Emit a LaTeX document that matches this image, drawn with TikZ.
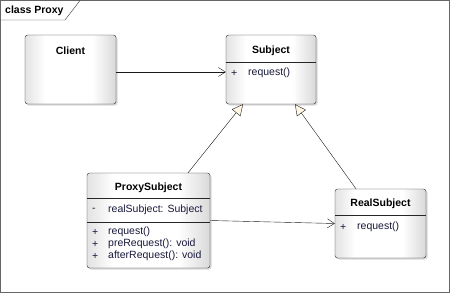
\documentclass[tikz,border=0pt]{standalone}
\usepackage{fontspec}
\setmainfont{Liberation Sans}
\usetikzlibrary{arrows.meta,shadows}
\definecolor{umltext}{RGB}{25,25,60}
\definecolor{genfill}{RGB}{255,247,228}
\pgfdeclarehorizontalshading{classfill}{100bp}{color(0bp)=(black!11); color(25bp)=(black!11); color(36bp)=(white); color(62bp)=(white); color(75bp)=(black!15); color(100bp)=(black!15)}
\begin{document}
\begin{tikzpicture}
[
x = 1pt, y = -1pt,
font = \fontsize{10.5}{12}\selectfont,
classbox/.style = {draw=black!85, rounded corners=2.5pt, inner sep=0pt, shading=classfill, drop shadow={opacity=0.3, shadow xshift=1.5pt, shadow yshift=-1.5pt}},
classname/.style = {font=\fontsize{10.5}{12}\selectfont\bfseries, inner sep=0pt},
member/.style = {anchor=west, inner sep=0pt, text=umltext},
assoc/.style = {draw=black!90, -{Straight Barb[length=7pt,width=9pt]}},
inherit/.style = {draw=black!90, -{Triangle[length=11pt,width=11pt,fill=genfill]}}
]
\useasboundingbox (0,0) rectangle (450,293);
\draw [black!60] (0.5,0.5) rectangle (449.5,292.5);
\draw [black!80] (0.5,20) -- (65,20) -- (80,0.5);
\node [classname, anchor=west] (title) at (5,11) {class Proxy};

% classes
\node [classbox, minimum width=91pt, minimum height=69pt] (client) at (70.5,69.5) {};
\node [classname] (clientname) at (70.5,51) {Client};

\node [classbox, minimum width=90pt, minimum height=69pt] (subject) at (271,69.5) {};
\node [classname] (subjectname) at (271,51) {Subject};
\draw [black!85] (subject.west |- 0,62) -- (subject.east |- 0,62);
\node [member] (subjectvis) at (231,73) {+};
\node [member] (subjectop) at (248,73) {request()};

\node [classbox, minimum width=123pt, minimum height=95pt] (proxy) at (148.5,220.5) {};
\node [classname] (proxyname) at (148.5,188) {ProxySubject};
\draw [black!85] (proxy.west |- 0,198) -- (proxy.east |- 0,198);
\draw [black!85] (proxy.west |- 0,222) -- (proxy.east |- 0,222);
\node [member] (proxyvisa) at (92,210) {-};
\node [member] (proxyattr) at (108,210) {realSubject: Subject};
\node [member] (proxyvisb) at (92,232) {+};
\node [member] (proxyopa) at (108,232) {request()};
\node [member] (proxyvisc) at (92,244) {+};
\node [member] (proxyopb) at (108,244) {preRequest(): void};
\node [member] (proxyvisd) at (92,256) {+};
\node [member] (proxyopc) at (108,256) {afterRequest(): void};

\node [classbox, minimum width=91pt, minimum height=69pt] (real) at (380.5,223.5) {};
\node [classname] (realname) at (380.5,204) {RealSubject};
\draw [black!85] (real.west |- 0,215) -- (real.east |- 0,215);
\node [member] (realvis) at (340,227) {+};
\node [member] (realop) at (357,227) {request()};

% relations
\draw [assoc] ([yshift=-2.5pt]client.east) -- ([yshift=-2.5pt]subject.west);
\draw [inherit] ([xshift=39.5pt]proxy.north) -- ([xshift=-28pt]subject.south);
\draw [inherit] ([xshift=-24.5pt]real.north) -- ([xshift=24pt]subject.south);
\draw [assoc] (proxy.east) -- (real.west);
\end{tikzpicture}
\end{document}
